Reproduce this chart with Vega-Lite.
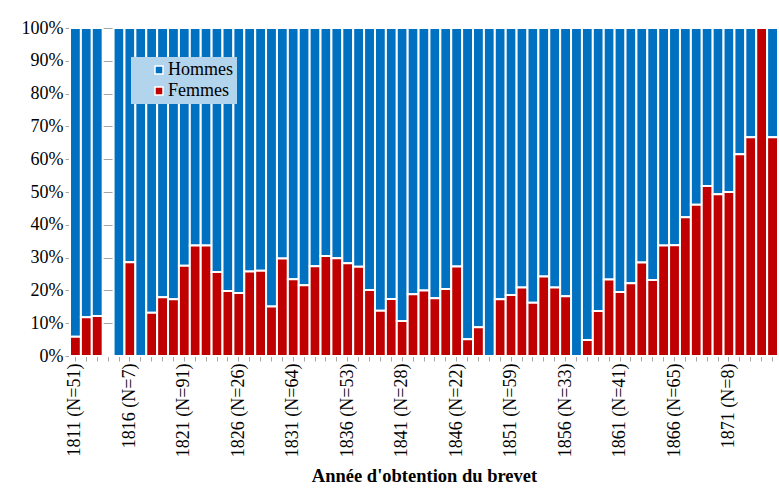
{
  "$schema": "https://vega.github.io/schema/vega-lite/v6.json",
  "width": 708,
  "height": 328,
  "padding": {"left": 21, "top": 19, "right": 0, "bottom": 0},
  "background": "white",
  "config": {"font": "Liberation Serif", "view": {"stroke": null}},
  "data": {
    "values": [
      {"annee": 1811, "label": "1811 (N=51)", "Femmes": 0.059, "Hommes": 0.941},
      {"annee": 1812, "label": "1812", "Femmes": 0.118, "Hommes": 0.882},
      {"annee": 1813, "label": "1813", "Femmes": 0.122, "Hommes": 0.878},
      {"annee": 1814, "label": "1814", "Femmes": 0, "Hommes": 0},
      {"annee": 1815, "label": "1815", "Femmes": 0, "Hommes": 1},
      {"annee": 1816, "label": "1816 (N=7)", "Femmes": 0.286, "Hommes": 0.714},
      {"annee": 1817, "label": "1817", "Femmes": 0, "Hommes": 1},
      {"annee": 1818, "label": "1818", "Femmes": 0.132, "Hommes": 0.868},
      {"annee": 1819, "label": "1819", "Femmes": 0.179, "Hommes": 0.821},
      {"annee": 1820, "label": "1820", "Femmes": 0.173, "Hommes": 0.827},
      {"annee": 1821, "label": "1821 (N=91)", "Femmes": 0.275, "Hommes": 0.725},
      {"annee": 1822, "label": "1822", "Femmes": 0.337, "Hommes": 0.663},
      {"annee": 1823, "label": "1823", "Femmes": 0.337, "Hommes": 0.663},
      {"annee": 1824, "label": "1824", "Femmes": 0.256, "Hommes": 0.744},
      {"annee": 1825, "label": "1825", "Femmes": 0.198, "Hommes": 0.802},
      {"annee": 1826, "label": "1826 (N=26)", "Femmes": 0.192, "Hommes": 0.808},
      {"annee": 1827, "label": "1827", "Femmes": 0.258, "Hommes": 0.742},
      {"annee": 1828, "label": "1828", "Femmes": 0.26, "Hommes": 0.74},
      {"annee": 1829, "label": "1829", "Femmes": 0.151, "Hommes": 0.849},
      {"annee": 1830, "label": "1830", "Femmes": 0.297, "Hommes": 0.703},
      {"annee": 1831, "label": "1831 (N=64)", "Femmes": 0.234, "Hommes": 0.766},
      {"annee": 1832, "label": "1832", "Femmes": 0.216, "Hommes": 0.784},
      {"annee": 1833, "label": "1833", "Femmes": 0.274, "Hommes": 0.726},
      {"annee": 1834, "label": "1834", "Femmes": 0.305, "Hommes": 0.695},
      {"annee": 1835, "label": "1835", "Femmes": 0.298, "Hommes": 0.702},
      {"annee": 1836, "label": "1836 (N=53)", "Femmes": 0.283, "Hommes": 0.717},
      {"annee": 1837, "label": "1837", "Femmes": 0.272, "Hommes": 0.728},
      {"annee": 1838, "label": "1838", "Femmes": 0.201, "Hommes": 0.799},
      {"annee": 1839, "label": "1839", "Femmes": 0.138, "Hommes": 0.862},
      {"annee": 1840, "label": "1840", "Femmes": 0.174, "Hommes": 0.826},
      {"annee": 1841, "label": "1841 (N=28)", "Femmes": 0.107, "Hommes": 0.893},
      {"annee": 1842, "label": "1842", "Femmes": 0.188, "Hommes": 0.812},
      {"annee": 1843, "label": "1843", "Femmes": 0.2, "Hommes": 0.8},
      {"annee": 1844, "label": "1844", "Femmes": 0.176, "Hommes": 0.824},
      {"annee": 1845, "label": "1845", "Femmes": 0.204, "Hommes": 0.796},
      {"annee": 1846, "label": "1846 (N=22)", "Femmes": 0.273, "Hommes": 0.727},
      {"annee": 1847, "label": "1847", "Femmes": 0.051, "Hommes": 0.949},
      {"annee": 1848, "label": "1848", "Femmes": 0.088, "Hommes": 0.912},
      {"annee": 1849, "label": "1849", "Femmes": 0, "Hommes": 1},
      {"annee": 1850, "label": "1850", "Femmes": 0.173, "Hommes": 0.827},
      {"annee": 1851, "label": "1851 (N=59)", "Femmes": 0.186, "Hommes": 0.814},
      {"annee": 1852, "label": "1852", "Femmes": 0.209, "Hommes": 0.791},
      {"annee": 1853, "label": "1853", "Femmes": 0.162, "Hommes": 0.838},
      {"annee": 1854, "label": "1854", "Femmes": 0.242, "Hommes": 0.758},
      {"annee": 1855, "label": "1855", "Femmes": 0.209, "Hommes": 0.791},
      {"annee": 1856, "label": "1856 (N=33)", "Femmes": 0.182, "Hommes": 0.818},
      {"annee": 1857, "label": "1857", "Femmes": 0, "Hommes": 1},
      {"annee": 1858, "label": "1858", "Femmes": 0.049, "Hommes": 0.951},
      {"annee": 1859, "label": "1859", "Femmes": 0.137, "Hommes": 0.863},
      {"annee": 1860, "label": "1860", "Femmes": 0.233, "Hommes": 0.767},
      {"annee": 1861, "label": "1861 (N=41)", "Femmes": 0.195, "Hommes": 0.805},
      {"annee": 1862, "label": "1862", "Femmes": 0.222, "Hommes": 0.778},
      {"annee": 1863, "label": "1863", "Femmes": 0.285, "Hommes": 0.715},
      {"annee": 1864, "label": "1864", "Femmes": 0.232, "Hommes": 0.768},
      {"annee": 1865, "label": "1865", "Femmes": 0.337, "Hommes": 0.663},
      {"annee": 1866, "label": "1866 (N=65)", "Femmes": 0.338, "Hommes": 0.662},
      {"annee": 1867, "label": "1867", "Femmes": 0.423, "Hommes": 0.577},
      {"annee": 1868, "label": "1868", "Femmes": 0.461, "Hommes": 0.539},
      {"annee": 1869, "label": "1869", "Femmes": 0.518, "Hommes": 0.482},
      {"annee": 1870, "label": "1870", "Femmes": 0.493, "Hommes": 0.507},
      {"annee": 1871, "label": "1871 (N=8)", "Femmes": 0.5, "Hommes": 0.5},
      {"annee": 1872, "label": "1872", "Femmes": 0.615, "Hommes": 0.385},
      {"annee": 1873, "label": "1873", "Femmes": 0.667, "Hommes": 0.333},
      {"annee": 1874, "label": "1874", "Femmes": 1, "Hommes": 0},
      {"annee": 1875, "label": "1875", "Femmes": 0.667, "Hommes": 0.333}
    ]
  },
  "transform": [{"fold": ["Hommes", "Femmes"], "as": ["sexe", "part"]}],
  "mark": {"type": "bar", "stroke": "white", "strokeWidth": 2},
  "encoding": {
    "x": {
      "field": "label",
      "type": "ordinal",
      "scale": {"paddingInner": 0, "paddingOuter": 0},
      "axis": {
        "title": "Année d'obtention du brevet",
        "titleFont": "Liberation Serif",
        "titleFontSize": 18.5,
        "titleFontWeight": "bold",
        "titleColor": "black",
        "titlePadding": 10,
        "labelAngle": -90,
        "labelFont": "Liberation Serif",
        "labelFontSize": 18,
        "labelColor": "black",
        "labelExpr": "indexof(datum.value, 'N=') >= 0 ? datum.value : ''",
        "labelPadding": 2,
        "labelOverlap": false,
        "tickColor": "#A6A6A6",
        "tickSize": 5,
        "domainColor": "#A6A6A6",
        "grid": false
      }
    },
    "y": {
      "field": "part",
      "type": "quantitative",
      "stack": "zero",
      "scale": {"domain": [0, 1]},
      "axis": {
        "title": null,
        "values": [0, 0.1, 0.2, 0.3, 0.4, 0.5, 0.6, 0.7, 0.8, 0.9, 1],
        "format": ".0%",
        "labelFont": "Liberation Serif",
        "labelFontSize": 18,
        "labelColor": "black",
        "labelPadding": 2,
        "grid": true,
        "gridColor": "#A6A6A6",
        "tickColor": "#A6A6A6",
        "tickSize": 5,
        "domainColor": "#A6A6A6"
      }
    },
    "color": {
      "field": "sexe",
      "type": "nominal",
      "scale": {"domain": ["Hommes", "Femmes"], "range": ["#0070C0", "#C00000"]},
      "legend": {
        "orient": "none",
        "legendX": 61,
        "legendY": 29,
        "title": null,
        "fillColor": "#B2D4EC",
        "padding": 4,
        "symbolType": "square",
        "symbolSize": 64,
        "symbolStrokeColor": "white",
        "symbolStrokeWidth": 1.5,
        "symbolOffset": 15,
        "symbolOpacity": 1,
        "labelFont": "Liberation Serif",
        "labelFontSize": 18,
        "labelColor": "black",
        "labelOffset": 0,
        "rowPadding": 3
      }
    },
    "order": {"field": "sexe", "sort": "ascending"}
  }
}
